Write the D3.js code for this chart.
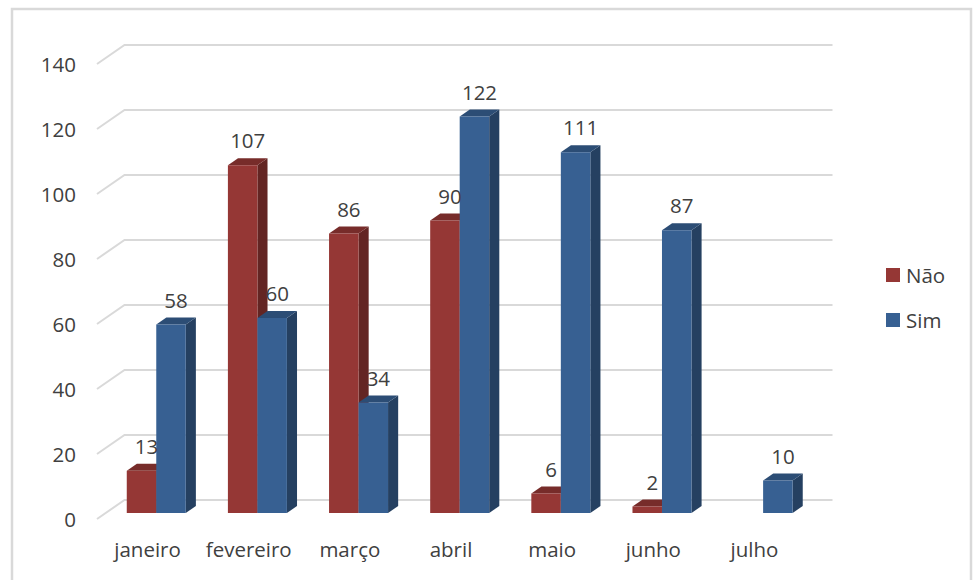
<!DOCTYPE html>
<html><head><meta charset="utf-8">
<script src="https://cdn.jsdelivr.net/npm/d3@7"></script>
<style>body{margin:0;background:#fff;}svg{display:block;font-family:"Open Sans",sans-serif;}</style>
</head><body>
<svg id="chart" width="974" height="580"></svg>
<script>
const categories = ["janeiro","fevereiro","março","abril","maio","junho","julho"];
const seriesNames = ["Não","Sim"];
const naoValues = [13,107,86,90,6,2,null];
const simValues = [58,60,34,122,111,87,10];
const yTicks = [0,20,40,60,80,100,120,140];
const colors = {"Não":{front:"#953735",side:"#632523",top:"#772c2a"},"Sim":{front:"#376092",side:"#254061",top:"#2c4d75"}};

const svg = d3.select("#chart");
const textColor = "#404040";
const fs = 20.5;

// chart border
svg.append("rect").attr("x",12).attr("y",9).attr("width",959).attr("height",600)
  .attr("fill","none").attr("stroke","#d9d9d9").attr("stroke-width",2.5);

// geometry
const depth = {dx:27.5, dy:-19};
const barF0 = 0.316, barF1 = 0.684;
const yBack = d3.scaleLinear().domain([0,140]).range([500,45]);
const yFront = v => yBack(v) - depth.dy;
const xFront = d3.scaleBand().domain(categories).range([97,805]).padding(0);
const xInner = d3.scaleBand().domain(seriesNames).range([-29.5,29.5]).padding(0);

const g = svg.append("g");
yTicks.forEach(t=>{
  const yb = yBack(t);
  g.append("path")
    .attr("d",`M${97},${yFront(t)} L${97+depth.dx},${yb} L${805+depth.dx},${yb}`)
    .attr("fill","none").attr("stroke","#d9d9d9").attr("stroke-width",2);
  svg.append("text").attr("x",76).attr("y",yFront(t)+1).attr("dy","0.36em")
    .attr("text-anchor","end").attr("font-size",fs).attr("fill",textColor).text(t);
});

const data = [];
categories.forEach((c,i)=>{
  [["Não",naoValues[i]],["Sim",simValues[i]]].forEach(([s,v])=>{ if(v!=null) data.push({c,s,v}); });
});
const ox0 = depth.dx*barF0, oy0 = depth.dy*barF0;
const bdx = depth.dx*(barF1-barF0), bdy = depth.dy*(barF1-barF0);
const yBar = v => yFront(v) + oy0;

const bars = svg.append("g");
data.forEach(d=>{
  const cx = xFront(d.c) + xFront.bandwidth()/2 + ox0;
  const x0 = cx + xInner(d.s), x1 = x0 + xInner.bandwidth();
  const yt = yBar(d.v), yb = yBar(0);
  const col = colors[d.s];
  bars.append("path").attr("d",`M${x1},${yb} L${x1+bdx},${yb+bdy} L${x1+bdx},${yt+bdy} L${x1},${yt} Z`)
    .attr("fill",col.side);
  bars.append("path").attr("d",`M${x0},${yt} L${x0+bdx},${yt+bdy} L${x1+bdx},${yt+bdy} L${x1},${yt} Z`)
    .attr("fill",col.top);
  bars.append("rect").attr("x",x0).attr("y",yt).attr("width",x1-x0).attr("height",yb-yt)
    .attr("fill",col.front);
  svg.append("text").attr("x",(x0+x1)/2+bdx/2).attr("y",yt+bdy-10)
    .attr("text-anchor","middle").attr("font-size",fs).attr("fill",textColor).text(d.v);
});

categories.forEach(c=>{
  svg.append("text").attr("x",xFront(c)+xFront.bandwidth()/2).attr("y",557)
    .attr("text-anchor","middle").attr("font-size",fs).attr("fill",textColor).text(c);
});

seriesNames.forEach((s,i)=>{
  const y = 268 + i*45;
  svg.append("rect").attr("x",886).attr("y",y).attr("width",14).attr("height",14).attr("fill",colors[s].front);
  svg.append("text").attr("x",906).attr("y",y+15).attr("font-size",fs).attr("fill",textColor).text(s);
});
</script>
</body></html>
